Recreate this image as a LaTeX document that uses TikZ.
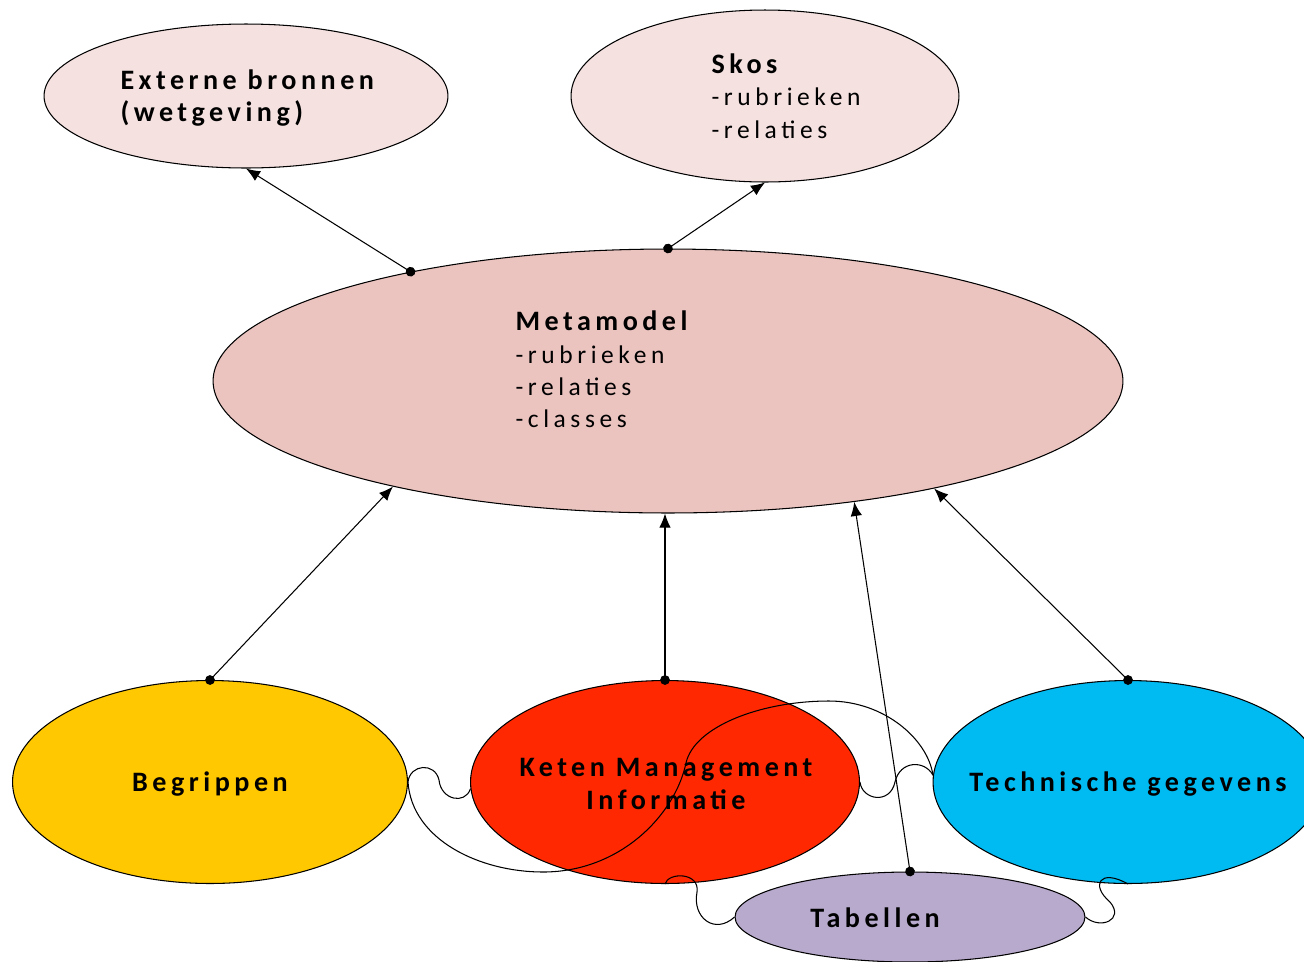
\documentclass[tikz,border=0pt]{standalone}
\usepackage{fontspec}
\setmainfont{Carlito}[LetterSpace=18,BoldFeatures={LetterSpace=16}]
\usetikzlibrary{shapes.geometric,arrows.meta}

\definecolor{palepink}{RGB}{244,225,224}
\definecolor{metapink}{RGB}{235,196,192}
\definecolor{begrgold}{RGB}{255,200,0}
\definecolor{ketenred}{RGB}{255,40,0}
\definecolor{techblue}{RGB}{0,186,242}
\definecolor{tablilac}{RGB}{184,170,204}
\newcommand{\hd}[1]{{\fontsize{16}{18.4}\selectfont\bfseries #1}}

\begin{document}
\begin{tikzpicture}[x=0.02cm,y=-0.02cm,line width=0.6pt,
  blob/.style={ellipse,draw=black,inner sep=0pt},
  txt/.style={inner sep=0pt,align=left,font=\fontsize{14.5}{18.4}\selectfont},
  bold/.style={txt,font=\fontsize{16}{18.4}\selectfont\bfseries},
  link/.style={{Circle[length=5.5pt]}-{Latex[length=8pt,width=6.5pt]},shorten <=-2.75pt}]
\useasboundingbox (0,0) rectangle (1304,961);
% top row
\node[blob,fill=palepink,minimum width=8.08cm,minimum height=2.88cm] (ext) at (246,96) {};
\node[blob,fill=palepink,minimum width=7.76cm,minimum height=3.44cm] (skos) at (765,96) {};
\node[bold,anchor=west] (exttxt) at (120,98) {Externe bronnen\\(wetgeving)};
\node[txt,anchor=west] (skostxt) at (711,96) {\hd{Skos}\\-rubrieken\\-relaties};
% middle
\node[blob,fill=metapink,minimum width=18.2cm,minimum height=5.28cm] (meta) at (668,381) {};
\node[txt,anchor=west] (metatxt) at (515,369.5) {\hd{Metamodel}\\-rubrieken\\-relaties\\-classes};
% bottom row
\node[blob,fill=begrgold,minimum width=7.9cm,minimum height=4.06cm] (begr) at (210,782) {};
\node[blob,fill=ketenred,minimum width=7.78cm,minimum height=4.06cm] (keten) at (665,782) {};
\node[blob,fill=techblue,minimum width=7.8cm,minimum height=4.06cm] (tech) at (1128,782) {};
\node[blob,fill=tablilac,minimum width=7.0cm,minimum height=1.8cm] (tab) at (910,917) {};
\node[bold] (begrtxt) at (210,784) {Begrippen};
\node[bold,align=center] (ketentxt) at (666,784) {Keten Management\\Informatie};
\node[bold] (techtxt) at (1128,784) {Technische gegevens};
\node[bold] (tabtxt) at (875,918) {Tabellen};
% links
\draw[link] (meta.157.1) -- (ext.south);
\draw[link] (meta.north) -- (skos.south);
\draw[link] (begr.north) -- (meta.-159.1);
\draw[link] (keten.north) -- (keten.north |- meta.south);
\draw[link] (tab.north) -- (meta.-33.5);
\draw[link] (tech.north) -- (meta.-22);
% curly connectors
\draw (begr.east) .. controls (410,764) and (435,762) .. (439,780)
  .. controls (441,800) and (465,805) .. (keten.182);
\draw (begr.east) .. controls (412,840) and (480,872) .. (543,872)
  .. controls (620,872) and (675,815) .. (686,763)
  .. controls (694,727) and (760,701) .. (829,701)
  .. controls (885,701) and (928,740) .. (tech.178);
\draw (keten.east) .. controls (862,800) and (890,805) .. (895,782)
  .. controls (900,760) and (925,760) .. (tech.178);
\draw (keten.south) .. controls (668,872) and (700,872) .. (697,892)
  .. controls (692,918) and (715,935) .. (tab.west);
\draw (tab.east) .. controls (1100,930) and (1125,920) .. (1110,902)
  .. controls (1090,885) and (1100,868) .. (tech.south);
\end{tikzpicture}
\end{document}
